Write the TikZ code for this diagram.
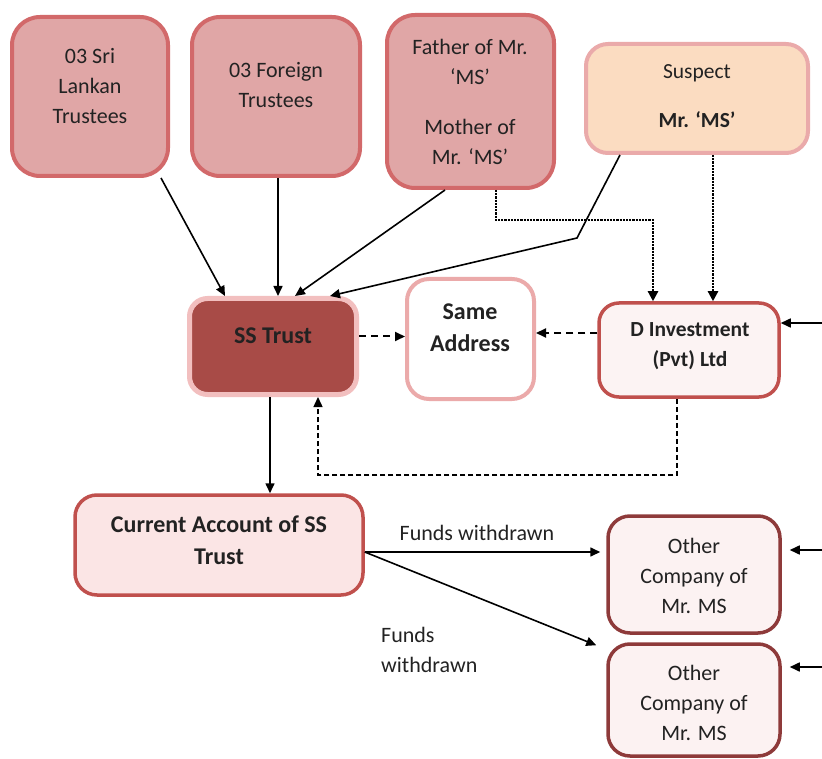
\documentclass[tikz,border=0pt]{standalone}
\usepackage{fontspec}
\setmainfont{Carlito}
\usetikzlibrary{arrows.meta}
\definecolor{topfill}{HTML}{E0A6A6}
\definecolor{topdraw}{HTML}{D2696A}
\definecolor{susfill}{HTML}{FBDCC1}
\definecolor{susdraw}{HTML}{EAAAAA}
\definecolor{ssfill}{HTML}{A84B47}
\definecolor{ssdraw}{HTML}{F2BFBF}
\definecolor{samedraw}{HTML}{EBAAAA}
\definecolor{dfill}{HTML}{FCF3F3}
\definecolor{ddraw}{HTML}{C0504D}
\definecolor{curfill}{HTML}{FBE5E5}
\definecolor{ofill}{HTML}{FCF2F2}
\definecolor{odraw}{HTML}{8E3A3A}
\definecolor{txt}{HTML}{222222}
\begin{document}
\begin{tikzpicture}[x=1pt,y=-1pt,
  every node/.style={font=\fontsize{22}{30}\selectfont, text=txt},
  bigtext/.style={font=\fontsize{24}{32}\selectfont\bfseries},
  midtext/.style={font=\fontsize{21.5}{30}\selectfont},
  boxbase/.style={rectangle, inner sep=0pt, anchor=center},
  topbox/.style={boxbase, fill=topfill, draw=topdraw, line width=4pt, rounded corners=28pt},
  susbox/.style={boxbase, fill=susfill, draw=susdraw, line width=4pt, rounded corners=22pt},
  ssbox/.style={boxbase, fill=ssfill, draw=ssdraw, line width=5pt, rounded corners=18pt},
  samebox/.style={boxbase, fill=white, draw=samedraw, line width=4pt, rounded corners=22pt},
  dbox/.style={boxbase, fill=dfill, draw=ddraw, line width=3.5pt, rounded corners=20pt},
  curbox/.style={boxbase, fill=curfill, draw=ddraw, line width=3.5pt, rounded corners=22pt},
  obox/.style={boxbase, fill=ofill, draw=odraw, line width=3.5pt, rounded corners=22pt},
  lbl/.style={align=center, inner sep=0pt},
  arr/.style={line width=1.6pt, -{Triangle[length=10pt,width=9pt]}},
  dotarr/.style={line width=2.2pt, densely dotted, -{Triangle[length=10pt,width=10pt]}},
  dasharr/.style={line width=2pt, dash pattern=on 7pt off 5pt, -{Triangle[length=10pt,width=9pt]}},
  thindash/.style={line width=1.4pt, dash pattern=on 5pt off 3pt, -{Triangle[length=10pt,width=9pt]}}
]
\useasboundingbox (0,0) rectangle (822,759);

% boxes
\node[topbox, minimum width=156pt, minimum height=159pt] (b1) at (90,96.5) {};
\node[topbox, minimum width=168pt, minimum height=159pt] (b2) at (276,96.5) {};
\node[topbox, minimum width=167pt, minimum height=173pt] (b3) at (470.5,101.5) {};
\node[susbox, minimum width=222pt, minimum height=109pt] (b4) at (697,98.5) {};
\node[ssbox, minimum width=167pt, minimum height=96pt] (ss) at (273,346.5) {};
\node[samebox, minimum width=127pt, minimum height=120pt] (same) at (470.5,339) {};
\node[dbox, minimum width=180pt, minimum height=94pt] (dinv) at (689,350) {};
\node[curbox, minimum width=288pt, minimum height=100pt] (cur) at (219,545) {};
\node[obox, minimum width=172pt, minimum height=117pt] (o1) at (694,574.5) {};
\node[obox, minimum width=172pt, minimum height=112pt] (o2) at (694,700) {};

% texts
\node[lbl] (t1) at (90,86) {03 Sri\\Lankan\\Trustees};
\node[lbl] (t2) at (276,85) {03 Foreign\\Trustees};
\node[lbl] (t3) at (470,102) {Father of Mr.\\‘MS’\\[20pt]Mother of\\Mr. ‘MS’};
\node[lbl, midtext] (t4) at (697,96.5) {Suspect\\[19pt]\textbf{Mr. ‘MS’}};
\node[lbl, bigtext] (t5) at (273,336) {SS Trust};
\node[lbl, bigtext] (t6) at (470,328) {Same\\Address};
\node[lbl, midtext] (t7) at (690,346) {\textbf{D Investment}\\\textbf{(Pvt) Ltd}};
\node[lbl, bigtext] (t8) at (219,540) {Current Account of SS\\Trust};
\node[lbl] (t9) at (694,576) {Other\\Company of\\Mr. MS};
\node[lbl] (t10) at (694,703) {Other\\Company of\\Mr. MS};
\node[lbl] (l1) at (477,533) {Funds withdrawn};
\node[lbl, align=left, anchor=west] (l2) at (381,650) {Funds\\withdrawn};

% solid arrows into SS Trust
\draw[arr] ([xshift=71pt]b1.south) -- ([xshift=-48pt]ss.north);
\draw[arr] ([xshift=2pt]b2.south) -- ([xshift=5pt]ss.north);
\draw[arr] ([xshift=-25.5pt]b3.south) -- ([xshift=22pt]ss.north);
\coordinate (bend) at (577,238);
\draw[arr] ([xshift=-77pt]b4.south) -- (bend) -- ([xshift=57pt]ss.north);

% dotted arrows into D Investment
\coordinate (dj) at (653,220);
\draw[dotarr] ([xshift=25.5pt]b3.south) |- (dj) -- (dj |- dinv.north);
\coordinate (s2) at ([xshift=16pt]b4.south);
\draw[dotarr] (s2) -- (s2 |- dinv.north);

% dashed arrows to Same Address
\draw[dasharr] ([yshift=10pt]ss.east) -- ([yshift=10pt]ss.east -| same.west);
\draw[dasharr] ([yshift=17pt]dinv.west) -- ([yshift=17pt]dinv.west -| same.east);

% dashed loop back to SS Trust
\coordinate (dib) at ([xshift=-12pt]dinv.south);
\coordinate (ssb) at ([xshift=45pt]ss.south);
\coordinate (lp) at (0,475);
\draw[thindash] (dib) -- (dib |- lp) -- (ssb |- lp) -- (ssb);

% SS Trust to current account
\coordinate (sd) at ([xshift=-3pt]ss.south);
\draw[arr] (sd) -- (sd |- cur.north);

% funds withdrawn
\coordinate (ce) at ([yshift=-7pt]cur.east);
\draw[arr, shorten >=6pt] (ce) -- (ce -| o1.west);
\draw[arr] (ce) -- ([xshift=-10pt,yshift=-3pt]o2.north west);

% arrows from the right edge
\coordinate (r1) at (822,323);
\coordinate (r2) at (822,550);
\coordinate (r3) at (822,667);
\draw[arr] (r1) -- (r1 -| dinv.east);
\draw[arr, shorten >=8pt] (r2) -- (r2 -| o1.east);
\draw[arr, shorten >=8pt] (r3) -- (r3 -| o2.east);
\end{tikzpicture}
\end{document}
